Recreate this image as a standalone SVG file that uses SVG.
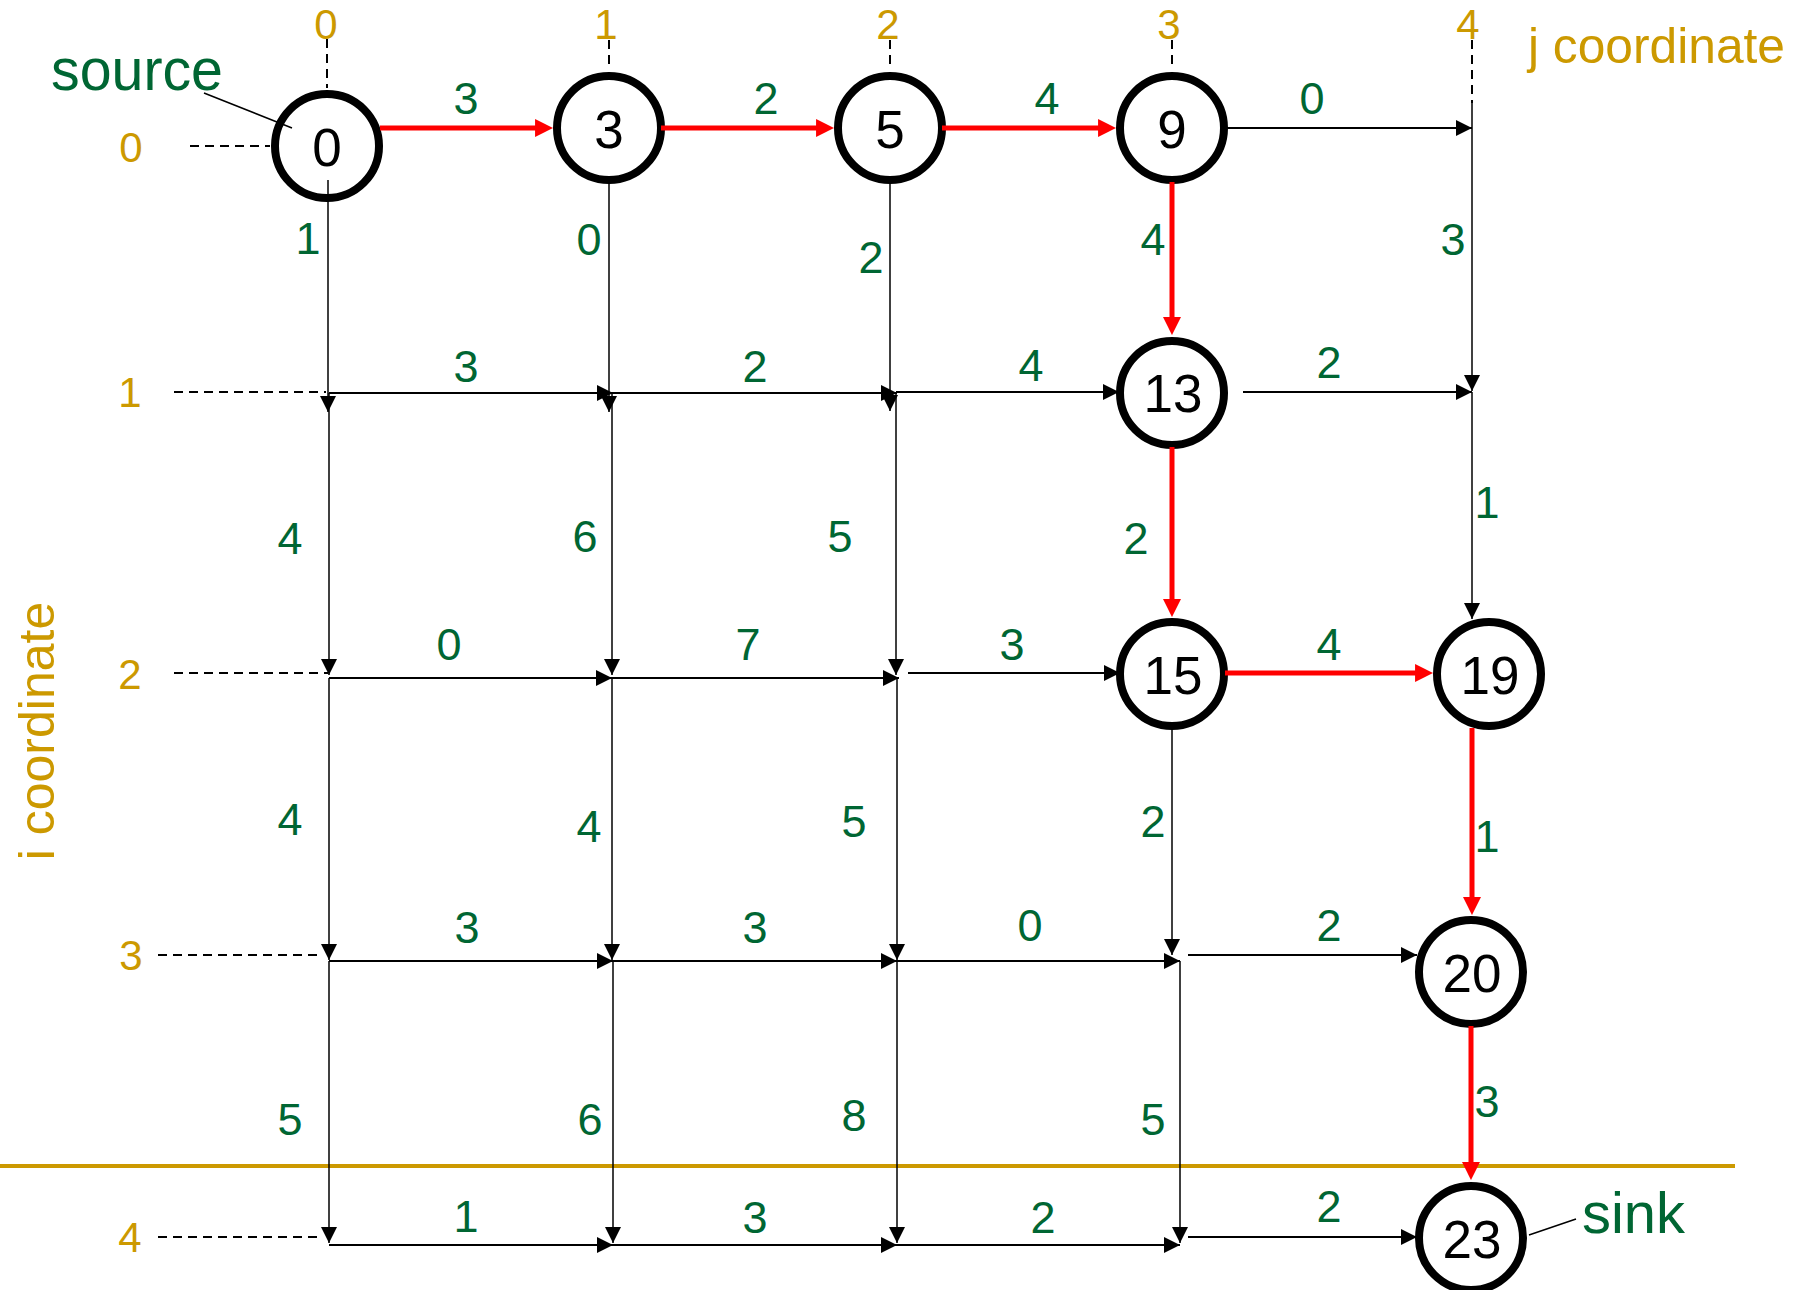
<svg xmlns="http://www.w3.org/2000/svg" width="1805" height="1290" viewBox="0 0 1805 1290">
<style>
.node circle{fill:#fff;stroke:#000;stroke-width:8}
.node text{font-family:"Liberation Sans",Arial,sans-serif;font-size:53px;fill:#000;text-anchor:middle}
.w{font-family:"Liberation Sans",Arial,sans-serif;font-size:45px;fill:#006633;text-anchor:middle}
.y{font-family:"Liberation Sans",Arial,sans-serif;font-size:42px;fill:#CC9900;text-anchor:middle}
.big{font-family:"Liberation Sans",Arial,sans-serif}
.h{stroke:#000;stroke-width:2.2;fill:none;marker-end:url(#ab)}
.v{stroke:#000;stroke-width:1.5;fill:none;marker-end:url(#ab)}
.r{stroke:#f00;stroke-width:5;fill:none;marker-end:url(#ar)}
.d{stroke:#000;stroke-width:2;stroke-dasharray:9 6;fill:none}
.p{stroke:#000;stroke-width:1.5;fill:none}
</style>
<defs>
<marker id="ab" viewBox="0 0 10 10" refX="10" refY="5" markerUnits="userSpaceOnUse" markerWidth="17" markerHeight="16" orient="auto"><path d="M0,0 L10,5 L0,10 z" fill="#000"/></marker>
<marker id="ar" viewBox="0 0 10 10" refX="4.4" refY="5" markerUnits="userSpaceOnUse" markerWidth="18" markerHeight="20" orient="auto"><path d="M0,0 L10,5 L0,10 z" fill="#f00"/></marker>
</defs>
<rect width="1805" height="1290" fill="#fff"/>

<g id="axes">
<line x1="0" y1="1166" x2="1735" y2="1166" stroke="#CC9900" stroke-width="4"/>
<text class="y" x="326" y="39">0</text>
<text class="y" x="606" y="39">1</text>
<text class="y" x="888" y="39">2</text>
<text class="y" x="1169" y="39">3</text>
<text class="y" x="1468" y="39">4</text>
<text class="y" x="131" y="162">0</text>
<text class="y" x="130" y="407">1</text>
<text class="y" x="130" y="689">2</text>
<text class="y" x="131" y="970">3</text>
<text class="y" x="130" y="1252">4</text>
<text class="big" x="1528" y="63" fill="#CC9900" style="font-size:50px" textLength="257" lengthAdjust="spacingAndGlyphs">j coordinate</text>
<text class="big" transform="translate(54,731) rotate(-90)" text-anchor="middle" fill="#CC9900" style="font-size:50px">i coordinate</text>
<text class="big" x="51" y="90" fill="#006633" style="font-size:60px" textLength="172" lengthAdjust="spacingAndGlyphs">source</text>
<text class="big" x="1582" y="1233" fill="#006633" style="font-size:58px" textLength="103" lengthAdjust="spacingAndGlyphs">sink</text>
</g>

<g id="n0" class="node"><circle cx="327" cy="146" r="52"/><text x="327" y="166">0</text></g>
<g id="n3" class="node"><circle cx="609" cy="128" r="52"/><text x="609" y="148">3</text></g>
<g id="n5" class="node"><circle cx="890" cy="128" r="52"/><text x="890" y="148">5</text></g>
<g id="n9" class="node"><circle cx="1172" cy="128" r="52"/><text x="1172" y="148">9</text></g>
<g id="n13" class="node"><circle cx="1172" cy="393" r="52"/><text x="1173" y="412">13</text></g>
<g id="n15" class="node"><circle cx="1172" cy="674" r="52"/><text x="1173" y="694">15</text></g>
<g id="n19" class="node"><circle cx="1489" cy="674" r="52"/><text x="1490" y="694">19</text></g>
<g id="n20" class="node"><circle cx="1471" cy="972" r="52"/><text x="1472" y="992">20</text></g>
<g id="n23" class="node"><circle cx="1471" cy="1238" r="52"/><text x="1472" y="1258">23</text></g>

<g id="connectors">
<path class="d" d="M327,39 V88 M609,40 V70 M890,40 V70 M1172,40 V70 M1472,40 V103"/>
<path class="d" d="M190,146 H270 M174,392 H326 M174,673 H328 M158,955 H321 M158,1237 H321"/>
<path class="p" d="M204,93 L292,128 M1529,1235 L1576,1219"/>
<path class="r" d="M380,128 H543"/>
<path class="r" d="M661,128 H824"/>
<path class="r" d="M942,128 H1106"/>
<path class="r" d="M1172,182 V325"/>
<path class="r" d="M1172,447 V607"/>
<path class="r" d="M1225,673 H1423"/>
<path class="r" d="M1472,728 V905"/>
<path class="r" d="M1471,1026 V1170"/>
<path class="h" d="M1224,128 H1472"/>
<path class="v" d="M328,180 V412"/>
<path class="v" d="M609,180 V412"/>
<path class="v" d="M890,180 V411"/>
<path class="v" d="M1472,103 V391"/>
<path class="h" d="M329,393 H613"/>
<path class="h" d="M612,393 H897"/>
<path class="h" d="M896,392 H1119"/>
<path class="h" d="M1243,392 H1472"/>
<path class="v" d="M329,393 V675"/>
<path class="v" d="M612,393 V675"/>
<path class="v" d="M896,393 V675"/>
<path class="v" d="M1472,392 V619"/>
<path class="h" d="M329,678 H612"/>
<path class="h" d="M612,678 H899"/>
<path class="h" d="M908,673 H1120"/>
<path class="v" d="M329,678 V960"/>
<path class="v" d="M612,678 V960"/>
<path class="v" d="M897,678 V960"/>
<path class="v" d="M1172,726 V955"/>
<path class="h" d="M329,961 H613"/>
<path class="h" d="M613,961 H897"/>
<path class="h" d="M897,961 H1180"/>
<path class="h" d="M1188,955 H1417"/>
<path class="v" d="M329,961 V1243"/>
<path class="v" d="M613,961 V1243"/>
<path class="v" d="M897,961 V1243"/>
<path class="v" d="M1180,961 V1243"/>
<path class="h" d="M329,1245 H613"/>
<path class="h" d="M613,1245 H897"/>
<path class="h" d="M897,1245 H1180"/>
<path class="h" d="M1188,1237 H1417"/>
</g>

<g id="weights">
<text class="w" x="466" y="114">3</text>
<text class="w" x="766" y="114">2</text>
<text class="w" x="1047" y="114">4</text>
<text class="w" x="1312" y="114">0</text>
<text class="w" x="308" y="254">1</text>
<text class="w" x="589" y="255">0</text>
<text class="w" x="871" y="273">2</text>
<text class="w" x="1153" y="255">4</text>
<text class="w" x="1453" y="255">3</text>
<text class="w" x="466" y="382">3</text>
<text class="w" x="755" y="382">2</text>
<text class="w" x="1031" y="381">4</text>
<text class="w" x="1329" y="378">2</text>
<text class="w" x="290" y="554">4</text>
<text class="w" x="585" y="552">6</text>
<text class="w" x="840" y="552">5</text>
<text class="w" x="1136" y="554">2</text>
<text class="w" x="1487" y="518">1</text>
<text class="w" x="449" y="660">0</text>
<text class="w" x="748" y="660">7</text>
<text class="w" x="1012" y="660">3</text>
<text class="w" x="1329" y="660">4</text>
<text class="w" x="290" y="835">4</text>
<text class="w" x="589" y="842">4</text>
<text class="w" x="854" y="837">5</text>
<text class="w" x="1153" y="837">2</text>
<text class="w" x="1487" y="852">1</text>
<text class="w" x="467" y="943">3</text>
<text class="w" x="755" y="943">3</text>
<text class="w" x="1030" y="941">0</text>
<text class="w" x="1329" y="941">2</text>
<text class="w" x="290" y="1135">5</text>
<text class="w" x="590" y="1135">6</text>
<text class="w" x="854" y="1131">8</text>
<text class="w" x="1153" y="1135">5</text>
<text class="w" x="1487" y="1117">3</text>
<text class="w" x="466" y="1232">1</text>
<text class="w" x="755" y="1233">3</text>
<text class="w" x="1043" y="1233">2</text>
<text class="w" x="1329" y="1222">2</text>
</g>
</svg>
